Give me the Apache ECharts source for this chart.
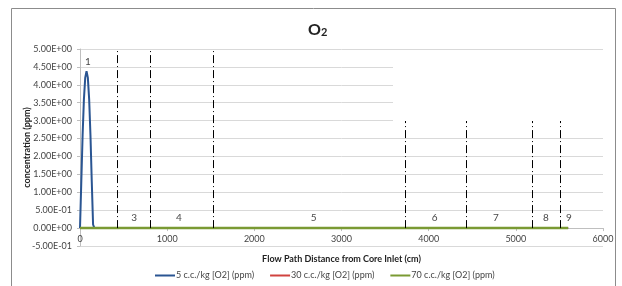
<!DOCTYPE html>
<html>
<head>
<meta charset="utf-8">
<script src="https://cdn.jsdelivr.net/npm/echarts@6/dist/echarts.min.js"></script>
<style>
  html, body { margin: 0; padding: 0; background: #fff; }
  #chart { width: 622px; height: 286px; }
</style>
</head>
<body>
<div id="chart"></div>
<script>
// flow path distance (cm) and O2 concentration (ppm)
const dist5 = [0, 15, 30, 45, 60, 75, 90, 105, 120, 135, 150, 165, 300, 1000, 2000, 3000, 4000, 5000, 5600];
const conc5 = [0, 1.3, 2.6, 3.6, 4.2, 4.38, 4.2, 3.6, 2.6, 1.3, 0.1, 0, 0, 0, 0, 0, 0, 0, 0];
const distFlat = [0, 1000, 2000, 3000, 4000, 5000, 5600];
const conc30 = [0, 0, 0, 0, 0, 0, 0];
const conc70 = [0, 0, 0, 0, 0, 0, 0];

const seriesNames = ["5 c.c./kg [O2] (ppm)", "30 c.c./kg [O2] (ppm)", "70 c.c./kg [O2] (ppm)"];
const seriesColors = ["#2a5592", "#d0433f", "#7a9a33"];

// region boundaries (cm) and region numbers
const boundaries = [424, 803, 1525, 3727, 4427, 5183, 5505];
const regionLabelX = [90, 620, 1135, 2680, 4070, 4770, 5345, 5610];
const regionLabelY = [4.65, 0.28, 0.28, 0.28, 0.28, 0.28, 0.28, 0.28];
const regionLabelText = ["1", "3", "4", "5", "6", "7", "8", "9"];

const regionNotesLeft = ["1.Core", "2.Bypass", "3.Upper plenum", "4.Hot leg", "5.Steam Generator"];
const regionNotesRight = ["6.Cold leg", "7.Downcomer", "8.Bottom lower plenum", "9.Top lower plenum"];

const yTickLabels = ["-5.00E-01", "0.00E+00", "5.00E-01", "1.00E+00", "1.50E+00", "2.00E+00",
  "2.50E+00", "3.00E+00", "3.50E+00", "4.00E+00", "4.50E+00", "5.00E+00"];

const font = "Lato, 'Liberation Sans', sans-serif";

const zip = (xs, ys) => xs.map((x, i) => [x, ys[i]]);

const chart = echarts.init(document.getElementById("chart"));

const noteTexts = [];
regionNotesLeft.forEach((t, i) => {
  noteTexts.push({
    type: "text", x: 400, y: 61 + i * 11.8,
    style: { text: t, fontSize: 9, fontFamily: font, fill: "#222", verticalAlign: "middle" }
  });
});
regionNotesRight.forEach((t, i) => {
  noteTexts.push({
    type: "text", x: i === 3 ? 504 : 503, y: 61 + i * 11.8,
    style: { text: t, fontSize: 9, fontFamily: font, fill: "#222", verticalAlign: "middle" }
  });
});

chart.setOption({
  animation: false,
  backgroundColor: "#fff",
  title: {
    text: "{a|O}{b|2}",
    left: 303,
    top: 16,
    textStyle: {
      rich: {
        a: { fontSize: 16, fontWeight: "bold", fontFamily: font, color: "#222" },
        b: { fontSize: 11, fontWeight: "bold", fontFamily: font, color: "#222", verticalAlign: "bottom", padding: [6, 0, 0, 0] }
      }
    }
  },
  grid: { left: 80, right: 19, top: 49, bottom: 40 },
  legend: {
    data: seriesNames,
    top: 266,
    left: 150,
    itemWidth: 20,
    itemHeight: 2,
    itemGap: 16,
    icon: "rect",
    textStyle: { fontSize: 9, fontFamily: font, color: "#444", padding: [0, 0, 0, -4] }
  },
  xAxis: {
    type: "value",
    min: 0,
    max: 6000,
    interval: 1000,
    name: "Flow Path Distance from Core Inlet (cm)",
    nameLocation: "middle",
    nameGap: 9,
    nameTextStyle: { fontSize: 9, fontWeight: "bold", fontFamily: font, color: "#222" },
    axisLine: { onZero: true, lineStyle: { color: "#bfbfbf" } },
    axisTick: { show: true, length: 3, lineStyle: { color: "#bfbfbf" } },
    axisLabel: { fontSize: 9, fontFamily: font, color: "#444", margin: -11, formatter: v => String(v) },
    splitLine: { show: false }
  },
  yAxis: {
    type: "value",
    min: -0.5,
    max: 5,
    interval: 0.5,
    name: "concentration (ppm)",
    nameLocation: "middle",
    nameGap: 48,
    nameMoveOverlap: false,
    nameTextStyle: { fontSize: 9, fontWeight: "bold", fontFamily: font, color: "#222" },
    axisLine: { show: true, lineStyle: { color: "#bfbfbf" } },
    axisTick: { show: true, length: 3, lineStyle: { color: "#bfbfbf" } },
    axisLabel: {
      fontSize: 9, fontFamily: font, color: "#444", margin: 8,
      formatter: v => yTickLabels[Math.round((v + 0.5) / 0.5)]
    },
    splitLine: { lineStyle: { color: "#d9d9d9" } }
  },
  series: [
    {
      name: seriesNames[0],
      type: "line",
      data: zip(dist5, conc5),
      showSymbol: false,
      color: seriesColors[0],
      lineStyle: { width: 2, color: seriesColors[0] },
      markLine: {
        silent: true,
        symbol: "none",
        label: { show: false },
        lineStyle: { color: "#000", width: 1, type: [8, 3, 1, 3] },
        data: boundaries.map(b => [{ coord: [b, 0] }, { coord: [b, 5] }])
      }
    },
    {
      name: seriesNames[1],
      type: "line",
      data: zip(distFlat, conc30),
      showSymbol: false,
      color: seriesColors[1],
      lineStyle: { width: 2, color: seriesColors[1] }
    },
    {
      name: seriesNames[2],
      type: "line",
      data: zip(distFlat, conc70),
      showSymbol: false,
      color: seriesColors[2],
      lineStyle: { width: 2.5, color: seriesColors[2] }
    },
    {
      name: "regions",
      type: "scatter",
      symbolSize: 0,
      silent: true,
      data: regionLabelX.map((x, i) => ({ value: [x, regionLabelY[i]], name: regionLabelText[i] })),
      label: {
        show: true,
        position: "inside",
        formatter: p => p.name,
        fontSize: 10,
        fontFamily: font,
        color: "#111"
      }
    }
  ],
  graphic: [
    {
      type: "rect",
      z: 100,
      shape: { x: 11.5, y: 8.5, width: 604, height: 290 },
      style: { fill: "none", stroke: "#8c8c8c", lineWidth: 1 }
    },
    {
      type: "rect",
      z: 100,
      shape: { x: 393, y: 51, width: 212, height: 70 },
      style: { fill: "#fff" }
    },
    {
      type: "group",
      z: 101,
      children: noteTexts
    }
  ]
});
</script>
</body>
</html>
